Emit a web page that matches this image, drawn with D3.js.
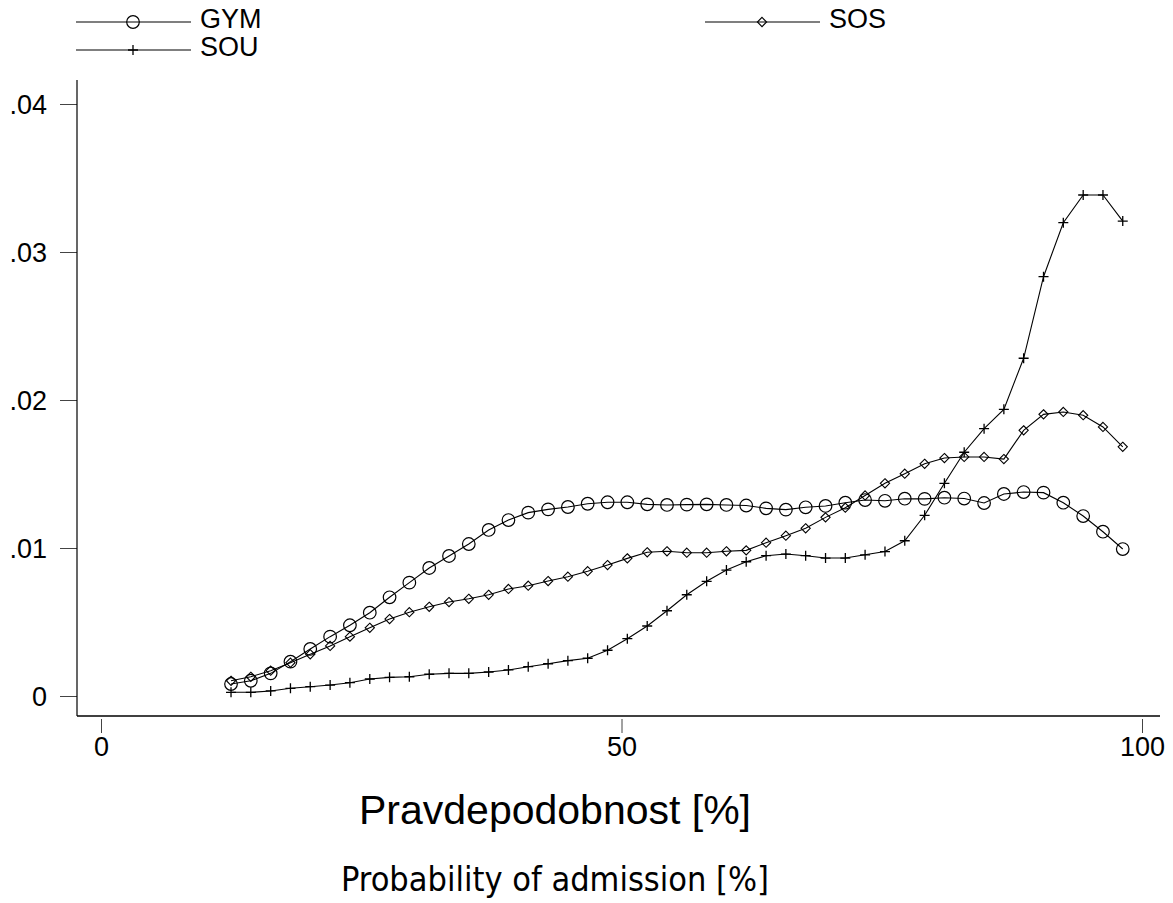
<!DOCTYPE html>
<html>
<head>
<meta charset="utf-8">
<script src="https://cdn.jsdelivr.net/npm/d3@7"></script>
<style>
  body { margin: 0; background: #fff; }
  svg { display: block; }
</style>
</head>
<body>
<div id="chart"></div>
<script>
// x grid of the density estimate (percent)
const probX = [12.49, 14.39, 16.30, 18.20, 20.10, 22.01, 23.91, 25.82, 27.72, 29.62,
               31.53, 33.43, 35.33, 37.24, 39.14, 41.04, 42.95, 44.85, 46.75, 48.66,
               50.56, 52.47, 54.37, 56.27, 58.18, 60.08, 61.98, 63.89, 65.79, 67.69,
               69.60, 71.50, 73.40, 75.31, 77.21, 79.12, 81.02, 82.92, 84.83, 86.73,
               88.63, 90.54, 92.44, 94.35, 96.25, 98.15];

const gymDensity = [0.00081, 0.00103, 0.00153, 0.00232, 0.00318, 0.00401, 0.00478, 0.00563, 0.00667, 0.00766,
                    0.00865, 0.00946, 0.01027, 0.01122, 0.01189, 0.01239, 0.01261, 0.01277, 0.01299, 0.01309,
                    0.01309, 0.01295, 0.01291, 0.01293, 0.01295, 0.01291, 0.01287, 0.01268, 0.01259, 0.01275,
                    0.01284, 0.01306, 0.01324, 0.01319, 0.01333, 0.01332, 0.01340, 0.01334, 0.01304, 0.01365,
                    0.01378, 0.01374, 0.01306, 0.01216, 0.01110, 0.00993];

const sosDensity = [0.00103, 0.00130, 0.00171, 0.00225, 0.00282, 0.00338, 0.00401, 0.00461, 0.00520, 0.00566,
                    0.00603, 0.00635, 0.00657, 0.00684, 0.00723, 0.00745, 0.00777, 0.00806, 0.00843, 0.00885,
                    0.00930, 0.00971, 0.00978, 0.00968, 0.00968, 0.00978, 0.00984, 0.01036, 0.01083, 0.01133,
                    0.01207, 0.01272, 0.01355, 0.01437, 0.01502, 0.01569, 0.01608, 0.01615, 0.01615, 0.01601,
                    0.01795, 0.01903, 0.01919, 0.01897, 0.01818, 0.01684];

const souDensity = [0.00025, 0.00025, 0.00034, 0.00052, 0.00063, 0.00074, 0.00090, 0.00115, 0.00126, 0.00130,
                    0.00147, 0.00153, 0.00153, 0.00162, 0.00176, 0.00198, 0.00218, 0.00239, 0.00255, 0.00309,
                    0.00387, 0.00473, 0.00576, 0.00684, 0.00775, 0.00851, 0.00907, 0.00948, 0.00959, 0.00948,
                    0.00932, 0.00932, 0.00954, 0.00976, 0.01049, 0.01221, 0.01437, 0.01647, 0.01806, 0.01937,
                    0.02282, 0.02833, 0.03198, 0.03385, 0.03385, 0.03209];

const seriesNames = ["GYM", "SOS", "SOU"];
const xTicks = [0, 50, 100];
const yTicks = [0, 0.01, 0.02, 0.03, 0.04];
const xTitle = "Pravdepodobnost [%]";
const xSubtitle = "Probability of admission [%]";

const W = 1173, H = 903;

const svg = d3.select("#chart")
              .append("svg")
              .attr("width", W)
              .attr("height", H);

const xScale = d3.scaleLinear().domain([0, 100]).range([101, 1142]);
const yScale = d3.scaleLinear().domain([0, 0.04]).range([696, 104]);

const axisLeftX = 77, axisBottomY = 716;

// marker shapes
function markerPath(type, s) {
    if (type === "diamond") return `M0,${-s}L${s},0L0,${s}L${-s},0Z`;
    if (type === "plus") return `M${-s},0H${s}M0,${-s}V${s}`;
    return "";
}

function drawMarker(g, type, x, y) {
    if (type === "circle") {
        g.append("circle")
         .attr("cx", x).attr("cy", y).attr("r", 6.3)
         .attr("fill", "none").attr("stroke", "#000").attr("stroke-width", 1.2);
    } else if (type === "diamond") {
        g.append("path")
         .attr("transform", `translate(${x},${y})`)
         .attr("d", markerPath("diamond", 4.6))
         .attr("fill", "none").attr("stroke", "#000").attr("stroke-width", 1.1);
    } else {
        g.append("path")
         .attr("transform", `translate(${x},${y})`)
         .attr("d", markerPath("plus", 5))
         .attr("fill", "none").attr("stroke", "#000").attr("stroke-width", 1.3);
    }
}

// axes
const yAxis = d3.axisLeft(yScale)
                .tickValues(yTicks)
                .tickSize(17)
                .tickSizeOuter(0)
                .tickFormat(d => d === 0 ? "0" : d.toFixed(2).replace(/^0/, ""));

const gy = svg.append("g")
              .attr("transform", `translate(${axisLeftX},0)`)
              .call(yAxis);
gy.select(".domain").remove();
gy.selectAll(".tick line").attr("stroke", "#444").attr("stroke-width", 1);
gy.selectAll(".tick text")
  .attr("x", -30)
  .attr("dy", "0.35em")
  .attr("fill", "#000")
  .style("font-family", "'Liberation Sans', Arial, sans-serif")
  .style("font-size", "27px");

const xAxis = d3.axisBottom(xScale)
                .tickValues(xTicks)
                .tickSize(14)
                .tickSizeOuter(0)
                .tickFormat(d => d);

const gx = svg.append("g")
              .attr("transform", `translate(0,${axisBottomY + 3})`)
              .call(xAxis);
gx.select(".domain").remove();
gx.selectAll(".tick line").attr("stroke", "#444").attr("stroke-width", 1);
gx.selectAll(".tick text")
  .attr("y", 18)
  .attr("dy", "0.71em")
  .attr("fill", "#000")
  .style("font-family", "'Liberation Sans', Arial, sans-serif")
  .style("font-size", "27px");

// axis lines
svg.append("line")
   .attr("x1", axisLeftX).attr("x2", axisLeftX)
   .attr("y1", 80).attr("y2", axisBottomY)
   .attr("stroke", "#000").attr("stroke-width", 1.2);
svg.append("line")
   .attr("x1", axisLeftX).attr("x2", 1160)
   .attr("y1", axisBottomY).attr("y2", axisBottomY)
   .attr("stroke", "#000").attr("stroke-width", 1.5);

// series
const series = [
    { name: seriesNames[0], values: gymDensity, marker: "circle" },
    { name: seriesNames[1], values: sosDensity, marker: "diamond" },
    { name: seriesNames[2], values: souDensity, marker: "plus" }
];

const line = d3.line()
               .x(d => xScale(d[0]))
               .y(d => yScale(d[1]));

series.forEach(s => {
    const pts = probX.map((x, i) => [x, s.values[i]]);
    svg.append("path")
       .datum(pts)
       .attr("fill", "none")
       .attr("stroke", "#000")
       .attr("stroke-width", 1.1)
       .attr("d", line);
    const g = svg.append("g");
    pts.forEach(p => drawMarker(g, s.marker, xScale(p[0]), yScale(p[1])));
});

// legend
const legendPos = [
    { x: 76, y: 22 },   // GYM
    { x: 705, y: 22 },  // SOS
    { x: 76, y: 50 }    // SOU
];
series.forEach((s, i) => {
    const p = legendPos[i];
    const g = svg.append("g").attr("class", "legend");
    g.append("line")
     .attr("x1", p.x).attr("x2", p.x + 115)
     .attr("y1", p.y).attr("y2", p.y)
     .attr("stroke", "#000").attr("stroke-width", 1.1);
    drawMarker(g, s.marker, p.x + 57, p.y);
    g.append("text")
     .attr("x", p.x + 124)
     .attr("y", p.y + 6)
     .style("font-family", "'Liberation Sans', Arial, sans-serif")
     .style("font-size", "27px")
     .text(s.name);
});

// titles
svg.append("text")
   .attr("x", 555)
   .attr("y", 824)
   .attr("text-anchor", "middle")
   .style("font-family", "'Liberation Sans', Arial, sans-serif")
   .style("font-size", "41px")
   .text(xTitle);

svg.append("text")
   .attr("x", 555)
   .attr("y", 891)
   .attr("text-anchor", "middle")
   .style("font-family", "'DejaVu Sans Condensed', 'DejaVu Sans', sans-serif")
   .style("font-stretch", "condensed")
   .style("font-size", "34px")
   .text(xSubtitle);
</script>
</body>
</html>
